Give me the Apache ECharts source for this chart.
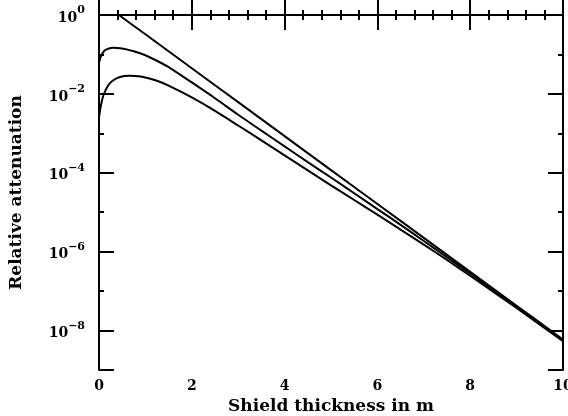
<!DOCTYPE html>
<html>
<head>
<meta charset="utf-8">
<script src="https://cdn.jsdelivr.net/npm/echarts@6/dist/echarts.min.js"></script>
<style>
  html, body { margin: 0; padding: 0; background: #fff; }
  #chart { width: 568px; height: 416px; }
</style>
</head>
<body>
<div id="chart"></div>
<script>
// shield thickness (m) and relative attenuation
const topX = [0.43, 1, 2, 3, 4, 5, 6, 7, 8, 9, 10]
const topY = [1.0, 0.324, 0.0447, 6.17e-3, 8.51e-4, 1.17e-4, 1.62e-5, 2.24e-6, 3.09e-7, 4.27e-8, 5.89e-9]

const midX = [0, 0.03, 0.08, 0.15, 0.3, 0.5, 0.75, 1, 1.25, 1.5, 2, 2.5, 3, 3.5, 4, 4.5, 5, 5.5, 6, 6.5, 7, 7.5, 8, 9, 10]
const midY = [0.0603, 0.0832, 0.110, 0.132, 0.148, 0.141, 0.120, 0.0955, 0.0692, 0.0479, 0.0195,
  7.76e-3, 2.95e-3, 1.17e-3, 4.68e-4, 1.86e-4, 7.59e-5, 3.02e-5, 1.20e-5, 4.79e-6, 1.86e-6, 7.24e-7, 2.79e-7, 4.03e-8, 5.69e-9]

const lowX = [0, 0.04, 0.1, 0.2, 0.3, 0.45, 0.65, 0.9, 1.2, 1.5, 2, 2.5, 3, 3.5, 4, 4.5, 5, 5.5, 6, 6.5, 7, 7.5, 8, 9, 10]
const lowY = [2.51e-3, 5.01e-3, 9.55e-3, 0.0166, 0.0219, 0.0269, 0.0288, 0.0275, 0.0224, 0.0162, 8.13e-3,
  3.72e-3, 1.58e-3, 6.61e-4, 2.75e-4, 1.15e-4, 4.79e-5, 2.04e-5, 8.71e-6, 3.63e-6, 1.51e-6, 6.17e-7, 2.45e-7, 3.72e-8, 5.37e-9]

// decade exponents (negated) that carry a label
const labelledExps = [0, 2, 4, 6, 8]

const font = '"DejaVu Serif", serif'

function pairs(xs, ys) {
  const ret = []
  for (let i = 0; i < xs.length; i++) {
    ret.push([xs[i], ys[i]])
  }
  return ret
}

function xAx(pos, labels) {
  return {
    type: 'value',
    position: pos,
    min: 0,
    max: 10,
    interval: 2,
    name: labels ? 'Shield thickness in m' : '',
    nameLocation: 'middle',
    nameGap: 28,
    nameTextStyle: { fontFamily: font, fontWeight: 'bold', fontSize: 17, color: '#000' },
    axisLine: { show: true, lineStyle: { color: '#000', width: 2 } },
    axisTick: { show: true, inside: true, length: 15, lineStyle: { color: '#000', width: 2 } },
    minorTick: { show: true, splitNumber: 5, length: 5, lineStyle: { color: '#000', width: 2 } },
    axisLabel: {
      show: labels,
      margin: 9,
      fontFamily: font,
      fontWeight: 'bold',
      fontSize: 14,
      color: '#000'
    },
    splitLine: { show: false },
    minorSplitLine: { show: false }
  }
}

function yTicks(pos, interval, len, labels) {
  return {
    type: 'value',
    position: pos,
    inverse: true,
    min: 0,
    max: 9,
    interval: interval,
    name: labels ? 'Relative attenuation' : '',
    nameLocation: 'middle',
    nameGap: 74,
    nameTextStyle: { fontFamily: font, fontWeight: 'bold', fontSize: 17, color: '#000' },
    axisLine: { show: interval === 2, lineStyle: { color: '#000', width: 2 } },
    axisTick: { show: true, inside: true, length: len, lineStyle: { color: '#000', width: 2 } },
    axisLabel: {
      show: labels,
      margin: 14,
      formatter(v) {
        if (labelledExps.indexOf(v) < 0) return ''
        return '{b|10}{e|' + (v === 0 ? '0' : '\u2212' + v) + '}'
      },
      rich: {
        b: { fontFamily: font, fontWeight: 'bold', fontSize: 14, color: '#000', verticalAlign: 'bottom' },
        e: { fontFamily: font, fontWeight: 'bold', fontSize: 11, color: '#000', verticalAlign: 'bottom', padding: [0, 0, 9, 0] }
      }
    },
    splitLine: { show: false }
  }
}

const chart = echarts.init(document.getElementById('chart'), null, { renderer: 'canvas' })

chart.setOption({
  animation: false,
  backgroundColor: '#fff',
  grid: { left: 99, right: 5, top: 15, bottom: 46, containLabel: false, outerBoundsMode: 'none' },
  xAxis: [xAx('bottom', true), xAx('top', false)],
  yAxis: [
    { type: 'log', logBase: 10, min: 1e-9, max: 1, show: false },
    yTicks('left', 2, 15, true),
    yTicks('left', 1, 5, false),
    yTicks('right', 2, 15, false),
    yTicks('right', 1, 5, false)
  ],
  series: [
    { data: pairs(topX, topY) },
    { data: pairs(midX, midY) },
    { data: pairs(lowX, lowY) }
  ].map(s => ({
    type: 'line',
    xAxisIndex: 0,
    yAxisIndex: 0,
    data: s.data,
    smooth: 0.3,
    symbol: 'none',
    clip: true,
    lineStyle: { color: '#000', width: 2 }
  }))
})
</script>
</body>
</html>
